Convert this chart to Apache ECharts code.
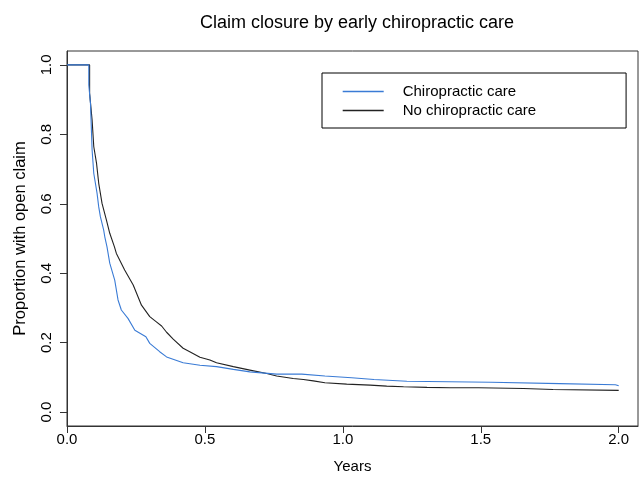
<!DOCTYPE html>
<html>
<head>
<meta charset="utf-8">
<script src="https://cdn.jsdelivr.net/npm/echarts@6/dist/echarts.min.js"></script>
<style>
  html, body { margin: 0; padding: 0; background: #ffffff; }
  #chart { width: 642px; height: 485px; }
</style>
</head>
<body>
<div id="chart"></div>
<script>
// Kaplan-Meier curves (repeated times = visible step corners)
const chiroTimes = [0, 0.079, 0.079, 0.085, 0.091, 0.097, 0.109, 0.115, 0.121, 0.133, 0.137, 0.145, 0.155, 0.173, 0.185, 0.197, 0.221, 0.246, 0.286, 0.300, 0.336, 0.361, 0.421, 0.482, 0.542, 0.603, 0.663, 0.760,
  0.851, 0.851, 0.935, 0.935, 1.032, 1.032, 1.113, 1.113, 1.232, 1.232, 1.537, 1.537, 1.786, 1.786, 1.988, 1.988, 2.0];
const chiroSurv  = [1.0, 1.0, 0.942, 0.890, 0.755, 0.688, 0.630, 0.591, 0.563, 0.524, 0.505, 0.476, 0.429, 0.380, 0.323, 0.294, 0.270, 0.236, 0.217, 0.198, 0.174, 0.159, 0.142, 0.135, 0.131, 0.123, 0.116, 0.1095,
  0.1095, 0.104, 0.104, 0.099, 0.099, 0.094, 0.094, 0.089, 0.089, 0.086, 0.086, 0.082, 0.082, 0.079, 0.079, 0.076, 0.076];

const noChiroTimes = [0, 0.082, 0.082, 0.091, 0.097, 0.107, 0.115, 0.127, 0.143, 0.155, 0.172, 0.179, 0.209, 0.240, 0.270, 0.300, 0.324, 0.343, 0.361, 0.385, 0.421, 0.445, 0.482, 0.518, 0.542, 0.603, 0.663, 0.724, 0.760,
  0.820, 0.857, 0.893, 0.935, 1.014, 1.099, 1.159, 1.220, 1.305, 1.389, 1.492, 1.492, 1.655, 1.655, 1.762, 1.762, 2.0];
const noChiroSurv  = [1.0, 1.0, 0.918, 0.841, 0.765, 0.717, 0.659, 0.601, 0.553, 0.515, 0.476, 0.457, 0.409, 0.366, 0.308, 0.275, 0.260, 0.248, 0.230, 0.210, 0.184, 0.174, 0.158, 0.150, 0.142, 0.131, 0.121, 0.111, 0.104,
  0.097, 0.094, 0.090, 0.0844, 0.0807, 0.0778, 0.0749, 0.0729, 0.0712, 0.070, 0.070, 0.068, 0.068, 0.065, 0.065, 0.0625, 0.0625];

const xTicks = [0, 0.5, 1.0, 1.5, 2.0];
const yTicks = [0, 0.2, 0.4, 0.6, 0.8, 1.0];

function pairs(ts, vs) {
  return ts.map(function (t, i) { return [t, vs[i]]; });
}

const font = 'Liberation Sans, Arial, sans-serif';
let chart = echarts.init(document.getElementById('chart'));
let option = {
  animation: false,
  title: {
    text: 'Claim closure by early chiropractic care',
    left: 352,
    top: 9,
    textAlign: 'center',
    textStyle: { fontFamily: font, fontSize: 18, fontWeight: 'normal', color: '#000' }
  },
  legend: {
    orient: 'vertical',
    left: 322,
    top: 73,
    padding: [9, 90, 8, 20],
    itemGap: 0,
    itemWidth: 41,
    itemHeight: 12,
    itemStyle: { opacity: 0 },
    lineStyle: { width: 1.4 },
    borderColor: '#000',
    borderWidth: 1,
    textStyle: { fontFamily: font, fontSize: 15, color: '#000', lineHeight: 19, padding: [0, 0, 0, 14] },
    data: ['Chiropractic care', 'No chiropractic care']
  },
  grid: {
    left: 67, right: 4, top: 51, bottom: 59,
    show: true, borderColor: '#333', borderWidth: 1
  },
  xAxis: {
    type: 'value',
    min: 0, max: 2.07,
    name: 'Years',
    nameLocation: 'middle',
    nameGap: 33,
    nameMoveOverlap: false,
    nameTextStyle: { fontFamily: font, fontSize: 15, color: '#000' },
    axisLine: { show: true, onZero: false, lineStyle: { color: '#333' } },
    splitLine: { show: false },
    axisTick: { show: true, length: 7, customValues: xTicks, lineStyle: { color: '#333' } },
    axisLabel: {
      customValues: xTicks, margin: 6,
      fontFamily: font, fontSize: 15, color: '#000',
      formatter: function (v) { return v.toFixed(1); }
    }
  },
  yAxis: {
    type: 'value',
    min: -0.04, max: 1.04,
    name: 'Proportion with open claim',
    nameLocation: 'middle',
    nameGap: 38,
    nameMoveOverlap: false,
    nameTextStyle: { fontFamily: font, fontSize: 16.5, color: '#000' },
    axisLine: { show: true, onZero: false, lineStyle: { color: '#333' } },
    splitLine: { show: false },
    axisTick: { show: true, length: 7, customValues: yTicks, lineStyle: { color: '#333' } },
    axisLabel: {
      customValues: yTicks, margin: 13, rotate: 90,
      fontFamily: font, fontSize: 15, color: '#000',
      formatter: function (v) { return v.toFixed(1); }
    }
  },
  series: [
    {
      name: 'No chiropractic care',
      type: 'line',
      symbol: 'none',
      data: pairs(noChiroTimes, noChiroSurv),
      itemStyle: { color: '#222222' },
      lineStyle: { color: '#222222', width: 1.1 }
    },
    {
      name: 'Chiropractic care',
      type: 'line',
      symbol: 'none',
      data: pairs(chiroTimes, chiroSurv),
      itemStyle: { color: '#3a7bd5' },
      lineStyle: { color: '#3a7bd5', width: 1.1 }
    }
  ]
};
chart.setOption(option);
</script>
</body>
</html>
